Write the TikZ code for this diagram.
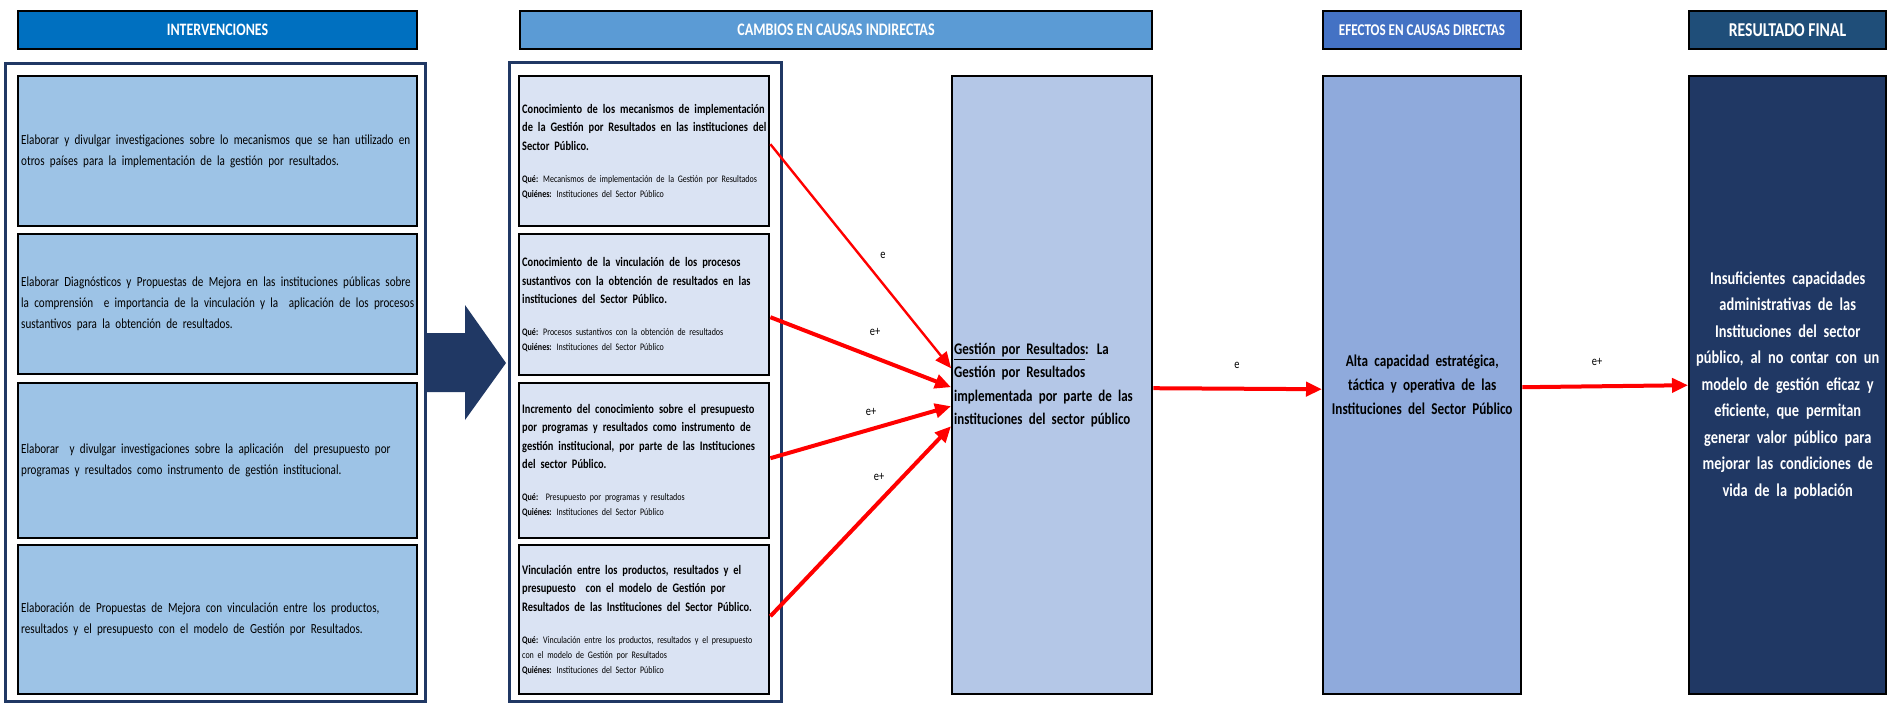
\documentclass[tikz,border=0pt]{standalone}
\usepackage{fontspec}
\setmainfont[FakeStretch=0.8]{Carlito}
\usetikzlibrary{arrows.meta,calc}
\definecolor{hA}{HTML}{0070C0}
\definecolor{hB}{HTML}{5B9BD5}
\definecolor{hC}{HTML}{4472C4}
\definecolor{hD}{HTML}{1F4E79}
\definecolor{iF}{HTML}{9DC3E6}
\definecolor{cF}{HTML}{DAE3F3}
\definecolor{gF}{HTML}{B4C7E7}
\definecolor{eF}{HTML}{8FAADC}
\definecolor{rF}{HTML}{203864}
\definecolor{frm}{HTML}{203864}
\definecolor{arr}{HTML}{FF0000}
\newcommand\nsp{\spaceskip=.38em\xspaceskip=.5em\relax}
\begin{document}
\begin{tikzpicture}[x=0.5pt,y=-0.5pt,
  hdr/.style={draw=black,line width=1pt,anchor=north west,inner sep=0pt,text=white,minimum height=19pt},
  ibox/.style={draw=black,line width=1.2pt,fill=iF,anchor=north west,inner xsep=1.5pt,inner ysep=0pt,minimum width=199.5pt,text width=196.5pt,align=left,font=\fontsize{6.95}{10.5}\selectfont},
  cbox/.style={draw=black,line width=1.2pt,fill=cF,anchor=north west,inner xsep=1.5pt,inner ysep=0pt,minimum width=125pt,text width=122pt,align=left},
  bigbox/.style={draw=black,line width=1.2pt,anchor=north west,inner ysep=0pt,minimum height=309pt},
  frameline/.style={draw=frm,line width=1.5pt},
  link/.style={draw=arr,line width=2pt,-{Triangle[length=8pt,width=7pt]}},
  lbl/.style={font=\fontsize{6.5}{7}\selectfont,inner sep=0pt}
]
\useasboundingbox (0,0) rectangle (1893,703);
% headers
\node[hdr,fill=hA,minimum width=199.5pt,font=\bfseries\fontsize{8.7}{10}\selectfont] (h1) at (17,10) {INTERVENCIONES};
\node[hdr,fill=hB,minimum width=316pt,font=\bfseries\fontsize{8.8}{10}\selectfont] (h2) at (519,10) {CAMBIOS EN CAUSAS INDIRECTAS};
\node[hdr,fill=hC,minimum width=99pt,font=\bfseries\fontsize{8.2}{10}\selectfont] (h3) at (1322,10) {EFECTOS EN CAUSAS DIRECTAS};
\node[hdr,fill=hD,minimum width=98.5pt,font=\bfseries\fontsize{9.8}{10}\selectfont] (h4) at (1688,10) {RESULTADO FINAL};
% frames
\draw[frameline] (5,63) rectangle (425,701);
\draw[frameline] (509,62) rectangle (781,701);
% interventions
\node[ibox,minimum height=75pt] (i1) at (17,75) {\nsp\mbox{Elaborar y divulgar investigaciones sobre lo mecanismos que se han utilizado en}\\\mbox{otros países para la implementación de la gestión por resultados.}};
\node[ibox,minimum height=70pt] (i2) at (17,233) {\nsp\mbox{Elaborar Diagnósticos y Propuestas de Mejora en las instituciones públicas sobre}\\\mbox{la comprensión\ \ e importancia de la vinculación y la\ \ aplicación de los procesos}\\\mbox{sustantivos para la obtención de resultados.}};
\node[ibox,minimum height=77.5pt] (i3) at (17,382) {\nsp\mbox{Elaborar\ \ y divulgar investigaciones sobre la aplicación\ \ del presupuesto por}\\\mbox{programas y resultados como instrumento de gestión institucional.}};
\node[ibox,minimum height=74.5pt] (i4) at (17,544) {\nsp\mbox{Elaboración de Propuestas de Mejora con vinculación entre los productos,}\\\mbox{resultados y el presupuesto con el modelo de Gestión por Resultados.}};
% big arrow
\fill[frm] (425,333) -- (465,333) -- (465,305) -- (506,363) -- (465,420) -- (465,392) -- (425,392) -- cycle;
% indirect causes
\node[cbox,minimum height=75pt] (c1) at (518,75) {{\bfseries\fontsize{6.5}{9.25}\selectfont\nsp \mbox{Conocimiento de los mecanismos de implementación}\\\mbox{de la Gestión por Resultados en las instituciones del}\\Sector Público.\par}\vspace{8.5pt}{\fontsize{5}{7.5}\selectfont\nsp \mbox{\textbf{Qué:} Mecanismos de implementación de la Gestión por Resultados}\\\textbf{Quiénes:} Instituciones del Sector Público\par}};
\node[cbox,minimum height=70.5pt] (c2) at (518,233) {{\bfseries\fontsize{6.5}{9.25}\selectfont\nsp \mbox{Conocimiento de la vinculación de los procesos}\\\mbox{sustantivos con la obtención de resultados en las}\\instituciones del Sector Público.\par}\vspace{8.5pt}{\fontsize{5}{7.5}\selectfont\nsp \mbox{\textbf{Qué:} Procesos sustantivos con la obtención de resultados}\\\textbf{Quiénes:} Instituciones del Sector Público\par}};
\node[cbox,minimum height=77.5pt] (c3) at (518,382) {{\bfseries\fontsize{6.5}{9.25}\selectfont\nsp \mbox{Incremento del conocimiento sobre el presupuesto}\\\mbox{por programas y resultados como instrumento de}\\\mbox{gestión institucional, por parte de las Instituciones}\\del sector Público.\par}\vspace{8.5pt}{\fontsize{5}{7.5}\selectfont\nsp \mbox{\textbf{Qué:}\ \ Presupuesto por programas y resultados}\\\textbf{Quiénes:} Instituciones del Sector Público\par}};
\node[cbox,minimum height=74.5pt] (c4) at (518,544) {{\bfseries\fontsize{6.5}{9.25}\selectfont\nsp \mbox{Vinculación entre los productos, resultados y el}\\\mbox{presupuesto\ \ con el modelo de Gestión por}\\\mbox{Resultados de las Instituciones del Sector Público.}\par}\vspace{8.5pt}{\fontsize{5}{7.5}\selectfont\nsp \mbox{\textbf{Qué:} Vinculación entre los productos, resultados y el presupuesto}\\con el modelo de Gestión por Resultados\\\textbf{Quiénes:} Instituciones del Sector Público\par}};
% big boxes
\node[bigbox,fill=gF,minimum width=100pt,text width=98pt,inner xsep=1pt,align=left,font=\bfseries\fontsize{8.1}{11.7}\selectfont] (g) at (951,75) {\nsp\underline{Gestión por Resultados}: La\\Gestión por Resultados\\implementada por parte de las\\instituciones del sector público};
\node[bigbox,fill=eF,minimum width=99pt,text width=97pt,inner xsep=1pt,align=center,font=\bfseries\fontsize{8.25}{12}\selectfont] (e) at (1322,75) {\nsp Alta capacidad estratégica,\\táctica y operativa de las\\Instituciones del Sector Público};
\node[bigbox,fill=rF,text=white,minimum width=98.5pt,text width=96.5pt,inner xsep=1pt,align=center,font=\bfseries\fontsize{9}{13.25}\selectfont] (r) at (1688,75) {\nsp Insuficientes capacidades\\administrativas de las\\Instituciones del sector\\público, al no contar con un\\modelo de gestión eficaz y\\eficiente, que permitan\\generar valor público para\\mejorar las condiciones de\\vida de la población};
% connectors
\draw[link,line width=1.2pt] ($(c1.east)+(0,-7)$) -- ($(g.west)+(0,-17)$);
\draw[link] ($(c2.east)+(0,12.5)$) -- ($(g.west)+(0,2)$);
\draw[link] ($(c3.east)+(0,-2.5)$) -- ($(g.west)+(0,21)$);
\draw[link] ($(c4.east)+(0,-3.5)$) -- ($(g.west)+(0,41)$);
\draw[link] ($(g.east)+(0,3)$) -- ($(e.west)+(0,4)$);
\draw[link] ($(e.east)+(0,2)$) -- ($(r.west)+(0,0)$);
% labels
\node[lbl] (l1) at (883,255) {e};
\node[lbl] (l2) at (875,332) {e+};
\node[lbl] (l3) at (871,412) {e+};
\node[lbl] (l4) at (879,477) {e+};
\node[lbl] (l5) at (1237,365) {e};
\node[lbl] (l6) at (1597,362) {e+};
\end{tikzpicture}
\end{document}
